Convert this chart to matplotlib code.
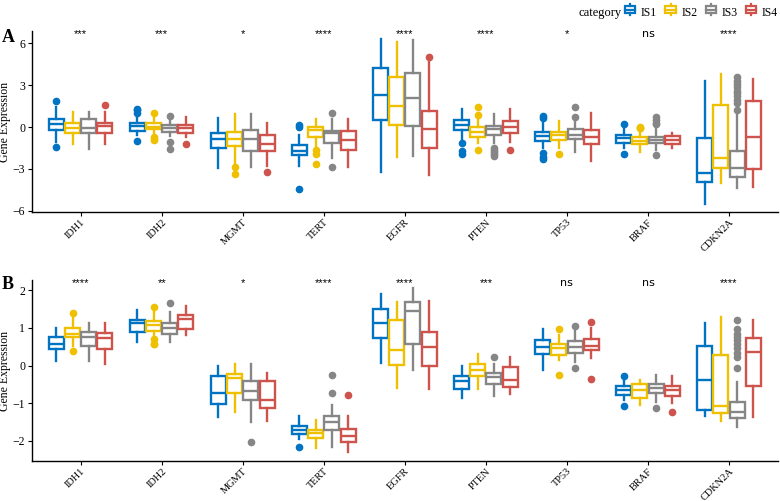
import numpy as np
import matplotlib
matplotlib.use("Agg")
import matplotlib.pyplot as plt
from matplotlib.patches import Rectangle
from matplotlib.lines import Line2D
from matplotlib.legend_handler import HandlerBase

plt.rcParams['font.family'] = ['Liberation Serif', 'DejaVu Serif']

genes = ['IDH1', 'IDH2', 'MGMT', 'TERT', 'EGFR', 'PTEN', 'TP53', 'BRAF', 'CDKN2A']
groups = ['IS1', 'IS2', 'IS3', 'IS4']
colors = ['#0073C2', '#EFC000', '#868686', '#CD534C']

# panel A (per gene: IS1..IS4)
medA = [[0.21, -0.05, -0.05, 0.05], [0.07, 0.02, -0.05, -0.05], [-0.88, -0.83, -0.83, -1.21],
        [-1.71, -0.21, -0.45, -0.93], [2.29, 1.52, 2.05, -0.14], [0.12, -0.33, -0.12, 0.02],
        [-0.64, -0.57, -0.57, -0.69], [-0.76, -1.0, -0.93, -0.93], [-3.26, -2.19, -2.95, -0.74]]
q1A = [[-0.21, -0.45, -0.4, -0.45], [-0.26, -0.17, -0.36, -0.43], [-1.52, -1.36, -1.71, -1.71],
       [-2.02, -0.69, -1.17, -1.64], [0.5, 0.12, 0.07, -1.48], [-0.21, -0.69, -0.57, -0.45],
       [-0.98, -0.93, -0.88, -1.21], [-1.17, -1.21, -1.17, -1.21], [-3.9, -2.9, -3.55, -3.02]]
q3A = [[0.57, 0.26, 0.55, 0.31], [0.26, 0.29, 0.14, 0.12], [-0.4, -0.36, -0.21, -0.6],
       [-1.29, 0.02, -0.31, -0.29], [4.19, 3.55, 3.83, 1.17], [0.5, -0.02, 0.07, 0.4],
       [-0.36, -0.33, -0.17, -0.21], [-0.57, -0.74, -0.69, -0.62], [-0.76, 1.6, -1.69, 1.88]]
loA = [[-1.05, -1.2, -1.55, -1.24], [-0.6, -0.55, -0.64, -0.74], [-2.9, -2.6, -2.83, -2.8],
       [-2.8, -1.4, -2.2, -2.83], [-3.24, -2.12, -2.05, -3.43], [-0.9, -1.17, -1.17, -1.1],
       [-1.5, -1.48, -1.76, -2.4], [-1.5, -1.76, -1.64, -1.52], [-5.5, -3.98, -4.38, -4.31]]
hiA = [[1.45, 1.07, 1.07, 1.07], [0.9, 0.62, 0.62, 0.69], [0.67, 0.9, 0.93, 0.26],
       [-0.6, 0.57, 0.6, 0.6], [6.26, 6.05, 6.19, 4.67], [1.29, 0.7, 0.93, 1.29],
       [0.4, 0.45, 0.62, 0.98], [0.1, -0.2, -0.05, -0.45], [3.29, 3.79, 0.98, 3.43]]
flA = [[[1.83, -1.43], [], [], [1.55]],
       [[1.3, 1.2, 1.0, -0.98], [1.0, -0.7, -0.83, -0.93], [0.8, -1.05, -1.6], [-1.24]],
       [[], [-2.88, -3.36], [], [-3.2]],
       [[0.17, 0.02, -4.4], [-1.64, -1.93, -2.64], [0.98, -2.83], []],
       [[], [], [], [5.02]],
       [[-1.17, -1.69, -1.93], [1.4, 0.86, -1.64], [-1.5, -1.65, -1.8, -1.95, -2.05], [-1.64]],
       [[0.79, 0.62, -1.83, -2.17, -2.3], [-1.93], [1.4, 0.74], []],
       [[0.21, -1.93], [0.0, -0.05, -0.1], [0.69, 0.5, 0.3, 0.2, -2.0], []],
       [[], [], [3.55, 3.3, 3.1, 2.85, 2.6, 2.4, 2.2, 1.95, 1.7, 1.2], []]]
sigA = ['***', '***', '*', '****', '****', '****', '*', 'ns', '****']

# panel B
medB = [[0.58, 0.85, 0.75, 0.74], [1.12, 1.09, 1.0, 1.24], [-0.73, -0.33, -0.67, -0.9],
        [-1.71, -1.79, -1.49, -1.88], [1.13, 0.41, 1.46, 0.5], [-0.42, -0.12, -0.3, -0.37],
        [0.49, 0.46, 0.5, 0.53], [-0.66, -0.66, -0.6, -0.66], [-0.39, -1.08, -1.24, 0.37]]
q1B = [[0.44, 0.75, 0.51, 0.44], [0.9, 0.93, 0.83, 0.96], [-1.01, -0.73, -0.92, -1.13],
       [-1.81, -1.93, -1.7, -2.04], [0.73, 0.01, 0.56, 0.0], [-0.62, -0.28, -0.49, -0.57],
       [0.32, 0.28, 0.34, 0.41], [-0.77, -0.86, -0.74, -0.81], [-1.17, -1.27, -1.4, -0.55]]
q3B = [[0.75, 0.99, 0.88, 0.87], [1.22, 1.19, 1.13, 1.34], [-0.27, -0.23, -0.42, -0.4],
       [-1.61, -1.7, -1.35, -1.67], [1.49, 1.21, 1.69, 0.88], [-0.28, 0.04, -0.19, -0.05],
       [0.69, 0.57, 0.64, 0.71], [-0.55, -0.5, -0.49, -0.53], [0.51, 0.27, -0.96, 0.73]]
loB = [[0.13, 0.51, 0.13, 0.04], [0.62, 0.78, 0.62, 0.81], [-1.36, -1.23, -1.5, -1.46],
       [-1.96, -2.19, -2.16, -2.29], [0.07, -0.59, -0.13, -0.62], [-0.87, -0.62, -0.8, -0.75],
       [-0.11, 0.14, 0.09, 0.2], [-0.92, -1.04, -0.96, -1.0], [-1.35, -1.48, -1.63, -1.36]]
hiB = [[1.0, 1.31, 1.13, 1.13], [1.47, 1.44, 1.42, 1.59], [0.0, 0.03, 0.04, -0.19],
       [-1.35, -1.45, -1.04, -1.35], [1.91, 1.69, 2.06, 1.71], [0.0, 0.32, 0.03, 0.22],
       [0.97, 0.8, 0.91, 1.0], [-0.39, -0.37, -0.25, -0.28], [1.13, 1.29, -0.44, 1.22]]
flB = [[[], [1.4, 0.38], [], []],
       [[], [1.56, 0.71, 0.58, 0.56], [1.66], []],
       [[], [], [-2.04], []],
       [[-2.16], [], [-0.24, -0.73], [-0.77]],
       [[], [], [], []],
       [[], [], [0.23], []],
       [[], [0.97, -0.24], [1.04, -0.06], [1.17, -0.35]],
       [[-0.27, -1.08], [], [-1.12], [-1.24]],
       [[], [], [1.2, 0.96, 0.85, 0.76, 0.67, 0.58, 0.46, 0.34, 0.23, -0.06], []]]
sigB = ['****', '**', '*', '****', '****', '***', 'ns', 'ns', '****']


def draw_panel(ax, med, q1, q3, lo, hi, fl, sig, ylim, yticks, sig_y):
    for k in range(len(groups)):
        stats = []
        for i in range(len(genes)):
            stats.append(dict(med=med[i][k], q1=q1[i][k], q3=q3[i][k],
                              whislo=lo[i][k], whishi=hi[i][k], fliers=fl[i][k]))
        pos = np.arange(len(genes)) + (k - 1.5) * 0.2
        c = colors[k]
        ax.bxp(stats, positions=pos, widths=0.185, showcaps=False, patch_artist=True,
               boxprops=dict(facecolor='white', edgecolor=c, linewidth=1.7),
               medianprops=dict(color=c, linewidth=1.7),
               whiskerprops=dict(color=c, linewidth=1.7),
               flierprops=dict(marker='o', markerfacecolor=c, markeredgecolor=c, markersize=4.5),
               manage_ticks=False)
    for i, s in enumerate(sig):
        ax.text(i, sig_y, s, ha='center', va='center', fontsize=8,
                family=['DejaVu Sans'] if s == 'ns' else ['Liberation Sans'])
    ax.set_xlim(-0.6, len(genes) - 0.4)
    ax.set_ylim(*ylim)
    ax.set_yticks(yticks)
    ax.set_xticks(np.arange(len(genes)))
    ax.set_xticklabels(genes, rotation=45, ha='right', va='top', rotation_mode='anchor', fontsize=7.5)
    ax.tick_params(axis='y', labelsize=8.5, length=3, pad=2)
    ax.tick_params(axis='x', length=3, pad=1)
    ax.set_ylabel('Gene Expression', fontsize=8.5, labelpad=1)
    for sp in ['top', 'right']:
        ax.spines[sp].set_visible(False)
    for sp in ['left', 'bottom']:
        ax.spines[sp].set_linewidth(1.0)


class BoxHandler(HandlerBase):
    def create_artists(self, legend, orig, xd, yd, w, h, fontsize, trans):
        c = orig.get_edgecolor()
        r = Rectangle((xd + w * 0.1, yd + h * 0.2), w * 0.8, h * 0.6, facecolor='white',
                      edgecolor=c, linewidth=1.6, transform=trans)
        m = Line2D([xd + w * 0.1, xd + w * 0.9], [yd + h * 0.5] * 2, color=c, lw=1.6, transform=trans)
        t = Line2D([xd + w * 0.5] * 2, [yd + h * 0.8, yd + h * 1.0], color=c, lw=1.6, transform=trans)
        b = Line2D([xd + w * 0.5] * 2, [yd, yd + h * 0.2], color=c, lw=1.6, transform=trans)
        return [r, m, t, b]


fig = plt.figure(figsize=(7.8, 5.01), dpi=100)
axA = fig.add_axes([0.041, 0.577, 0.956, 0.361])
axB = fig.add_axes([0.041, 0.080, 0.956, 0.361])

draw_panel(axA, medA, q1A, q3A, loA, hiA, flA, sigA, (-6.07, 6.86), [-6, -3, 0, 3, 6], 6.62)
draw_panel(axB, medB, q1B, q3B, loB, hiB, flB, sigB, (-2.53, 2.27), [-2, -1, 0, 1, 2], 2.2)

fig.text(0.002, 0.926, 'A', fontsize=13, fontweight='bold', va='center')
fig.text(0.002, 0.432, 'B', fontsize=13, fontweight='bold', va='center')

handles = [Rectangle((0, 0), 1, 1, facecolor='white', edgecolor=c) for c in colors]
fig.text(0.742, 0.974, 'category', fontsize=9, va='center')
fig.legend(handles, groups, handler_map={Rectangle: BoxHandler()}, ncol=4, frameon=False,
           loc='center right', bbox_to_anchor=(1.008, 0.974), fontsize=8.5,
           handlelength=1.1, handleheight=1.0, handletextpad=0.35, columnspacing=0.6,
           borderpad=0.2)

fig.savefig('out.png', dpi=100)
